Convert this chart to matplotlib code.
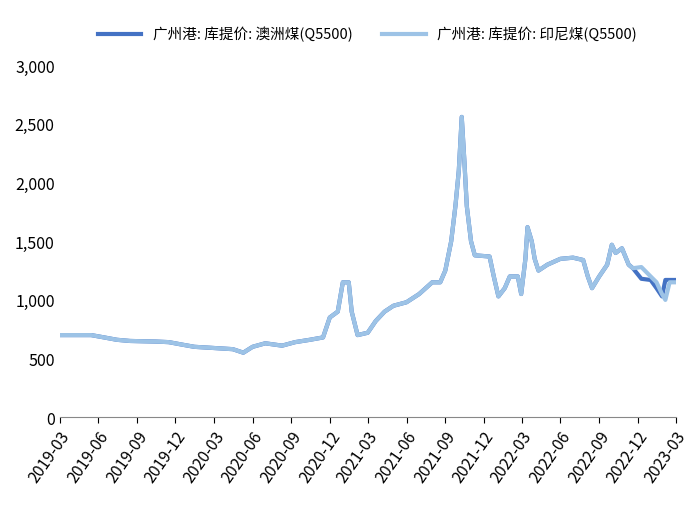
import matplotlib
matplotlib.use("Agg")
import matplotlib.pyplot as plt
import matplotlib.dates as mdates
import pandas as pd

plt.rcParams['font.family'] = ['Noto Sans CJK SC', 'DejaVu Sans']

dates = ["2019-03-01","2019-05-15","2019-06-15","2019-07-15","2019-08-15","2019-10-15","2019-11-15","2019-12-15",
 "2020-01-15","2020-03-01","2020-04-15","2020-05-10","2020-06-01","2020-07-01","2020-08-10","2020-09-10","2020-10-15",
 "2020-11-15","2020-12-01","2020-12-20","2021-01-01","2021-01-15","2021-01-22","2021-02-05","2021-03-01","2021-03-20",
 "2021-04-10","2021-05-01","2021-06-01","2021-07-01","2021-08-01","2021-08-20","2021-09-01","2021-09-15","2021-09-25",
 "2021-10-03","2021-10-10","2021-10-16","2021-10-22","2021-11-01","2021-11-10","2021-12-15","2021-12-25","2022-01-05",
 "2022-01-20","2022-02-01","2022-02-20","2022-02-28","2022-03-10","2022-03-15","2022-03-25","2022-04-01","2022-04-10",
 "2022-05-01","2022-06-01","2022-07-01","2022-07-25","2022-08-05","2022-08-15","2022-09-01","2022-09-20","2022-10-01",
 "2022-10-10","2022-10-25","2022-11-10","2022-11-20","2022-12-10","2023-01-01","2023-01-15","2023-01-28","2023-02-05",
 "2023-02-15","2023-03-01"]
indo = [700,700,680,660,650,645,640,620,600,590,580,550,600,630,610,640,660,680,850,900,1150,1150,900,700,720,820,
 900,950,980,1050,1150,1150,1250,1500,1800,2100,2560,2200,1800,1500,1380,1370,1200,1030,1100,1200,1200,1050,1350,1620,
 1500,1350,1250,1300,1350,1360,1340,1200,1100,1200,1300,1470,1400,1440,1300,1270,1280,1200,1150,1050,1000,1150,1150]
aus = indo[:-7] + [1180,1170,1100,1030,1170,1170,1170]

d = pd.to_datetime(dates)
fig, ax = plt.subplots(figsize=(7, 5.1), dpi=100)
fig.subplots_adjust(left=0.085, right=0.965, top=0.87, bottom=0.18)
ax.plot(d, aus, color='#4472C4', lw=3, label='广州港: 库提价: 澳洲煤(Q5500)')
ax.plot(d, indo, color='#9DC3E6', lw=3, label='广州港: 库提价: 印尼煤(Q5500)')
ax.set_ylim(0, 3000)
ax.set_yticks(range(0, 3001, 500))
ax.yaxis.set_major_formatter(matplotlib.ticker.FuncFormatter(lambda v, p: f"{int(v):,}"))
ax.set_xlim(pd.Timestamp("2019-03-01"), pd.Timestamp("2023-03-01"))
ax.xaxis.set_major_locator(mdates.MonthLocator(bymonth=[3,6,9,12]))
ax.xaxis.set_major_formatter(mdates.DateFormatter("%Y-%m"))
plt.setp(ax.get_xticklabels(), rotation=55, ha='right', rotation_mode='anchor')
ax.tick_params(labelsize=11.5, length=0)
ax.tick_params(axis='x', length=4, direction='out')
for s in ['top', 'right', 'left']:
    ax.spines[s].set_visible(False)
ax.spines['bottom'].set_color('#888888')
ax.legend(loc='lower center', bbox_to_anchor=(0.5, 1.03), ncol=2, frameon=False, fontsize=10.5, handlelength=3)
fig.savefig("out.png")
